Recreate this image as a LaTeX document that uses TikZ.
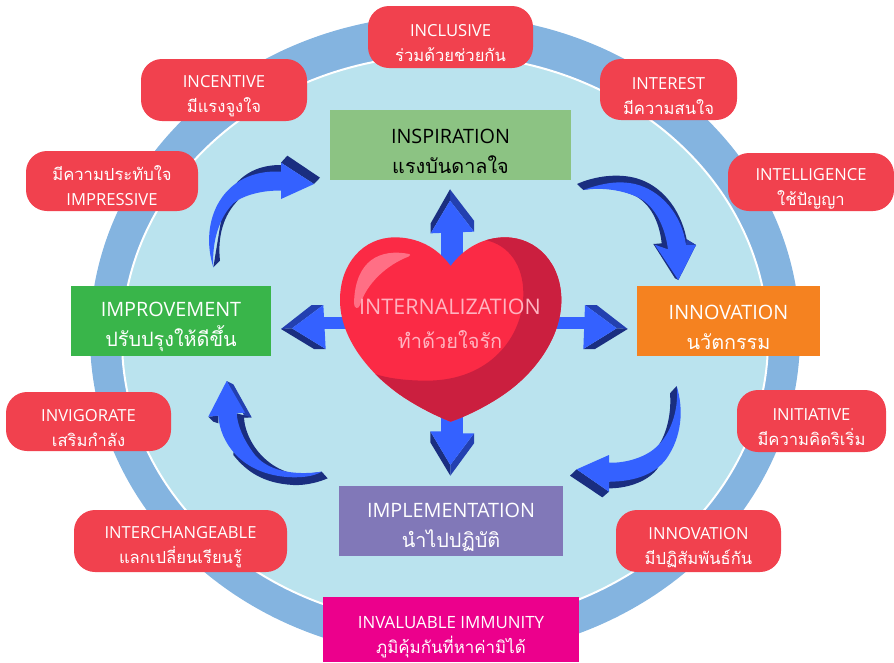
\documentclass[tikz,border=0pt]{standalone}
\usepackage{fontspec}
\setmainfont{Open Sans}
\newfontfamily\thaif[Script=Thai]{Loma}
\definecolor{pillred}{HTML}{F1414E}
\definecolor{ringblue}{HTML}{84B4E0}
\definecolor{innerblue}{HTML}{BAE3EE}
\definecolor{arrowblue}{HTML}{3461FF}
\definecolor{arrowdark}{HTML}{1A2E80}
\definecolor{arrowmid}{HTML}{2340B0}
\definecolor{heartred}{HTML}{FB2A45}
\definecolor{heartdark}{HTML}{CB1F3F}
\definecolor{hearthi}{HTML}{FF6F85}
\definecolor{hearttext}{HTML}{FFB3C0}
\definecolor{cardgreen}{HTML}{8CC383}
\definecolor{cardlime}{HTML}{39B54A}
\definecolor{cardorange}{HTML}{F58220}
\definecolor{cardviolet}{HTML}{8178B8}
\definecolor{cardpink}{HTML}{EC008C}
\tikzset{
  pill/.style={fill=pillred,draw=none,rounded corners=21pt,text=white,align=center,inner sep=0pt,
    font=\fontsize{16.6}{25}\selectfont},
  card/.style={draw=none,text=white,align=center,inner sep=0pt,font=\fontsize{19.8}{30}\selectfont},
  blue/.style={fill=arrowblue,draw=none},
  dark/.style={fill=arrowdark,draw=none},
  mid/.style={fill=arrowmid,draw=none},
  zoomed/.style={scale=1/3},
}
\newcommand{\pillnode}[7]{\node[pill,minimum width=#3pt-#1pt,minimum height=#4pt-#2pt] (#5) at ({(#1+#3)/2},{(#2+#4)/2}) {\rule{0pt}{25pt}#6\\#7};}
\newcommand{\cardnode}[7]{\node[card,#7,minimum width=#3pt-#1pt,minimum height=#4pt-#2pt] (#5) at ({(#1+#3)/2},{(#2+#4)/2}) {\rule{0pt}{27pt}#6};}
\begin{document}
\begin{tikzpicture}[x=1pt,y=-1pt]
\useasboundingbox (0,0) rectangle (894,662);
% ring and inner disc
\fill[ringblue] (445,336) ellipse [x radius=355,y radius=321];
\filldraw[fill=innerblue,draw=white,line width=2pt] (445,340) ellipse [x radius=323,y radius=285];

% straight arrows
\begin{scope}[shift={(330,170)},zoomed]
 \fill[blue] (333,180) rectangle (398,300);
 \fill[mid] (360,58) -- (432,152) -- (432,185) -- (360,92) -- cycle;
 \fill[dark] (360,58) -- (302,160) -- (302,190) -- (360,92) -- cycle;
 \fill[blue] (302,190) -- (360,92) -- (432,185) -- cycle;
\end{scope}
\begin{scope}[shift={(540,290)},zoomed]
 \fill[blue] (30,80) rectangle (140,116);
 \fill[mid] (135,45) -- (170,45) -- (263,117) -- (230,115) -- cycle;
 \fill[dark] (130,177) -- (165,177) -- (263,117) -- (230,115) -- cycle;
 \fill[blue] (135,45) -- (230,115) -- (130,177) -- cycle;
\end{scope}
\begin{scope}[shift={(270,290)},zoomed]
 \fill[blue] (150,80) rectangle (240,116);
 \fill[mid] (160,45) -- (125,45) -- (33,117) -- (66,115) -- cycle;
 \fill[dark] (167,177) -- (132,177) -- (33,117) -- (66,115) -- cycle;
 \fill[blue] (160,45) -- (66,115) -- (167,177) -- cycle;
\end{scope}
\begin{scope}[shift={(410,410)},zoomed]
 \fill[blue] (93,20) rectangle (159,80);
 \fill[dark] (61,64) -- (61,97) -- (121,197) -- (121,165) -- cycle;
 \fill[mid] (192,70) -- (192,100) -- (121,197) -- (121,165) -- cycle;
 \fill[blue] (61,64) -- (93,64) -- (159,70) -- (192,70) -- (121,165) -- cycle;
\end{scope}

% curved arrows
\begin{scope}[shift={(560,170)},zoomed]
 \fill[dark] (51,42) .. controls (100,20) and (170,8) .. (230,25) .. controls (300,45) and (360,110) .. (380,208)
   -- (408,225) -- (355,330) -- (345,325) -- (280,222) -- (305,220)
   .. controls (300,170) and (280,110) .. (230,80) .. controls (180,55) and (120,50) .. (70,60) -- cycle;
 \fill[mid] (380,208) -- (408,225) -- (378,225) -- cycle;
 \fill[blue] (70,60) .. controls (120,42) and (170,30) .. (225,42) .. controls (300,60) and (365,130) .. (378,225)
   -- (408,225) -- (355,330) -- (284,224) -- (324,238)
   .. controls (315,170) and (285,105) .. (230,80) .. controls (180,58) and (120,52) .. (70,60) -- cycle;
\end{scope}
\begin{scope}[shift={(200,140)},zoomed]
 \fill[dark] (40,382) -- (60,362) .. controls (52,290) and (70,225) .. (115,180) -- (70,200) -- cycle;
 \fill[dark] (100,140) .. controls (140,90) and (190,75) .. (243,75) -- (243,100) -- (130,130) -- cycle;
 \fill[dark] (243,68) -- (262,47) -- (360,113) -- (342,132) -- cycle;
 \fill[blue] (40,382) .. controls (-5,240) and (70,85) .. (243,95)
   -- (243,68) -- (342,132) -- (243,177) -- (243,152)
   .. controls (190,150) and (130,165) .. (100,190) .. controls (60,230) and (35,300) .. (40,382) -- cycle;
\end{scope}
\begin{scope}[shift={(560,380)},zoomed]
 \fill[dark] (330,40) -- (350,18) -- (358,100) -- (340,160) -- (285,210) .. controls (320,170) and (335,100) .. (330,40) -- cycle;
 \fill[dark] (147,305) -- (147,325) .. controls (210,325) and (270,300) .. (295,262) -- (250,270) -- cycle;
 \fill[dark] (50,268) -- (30,287) -- (127,352) -- (147,335) -- cycle;
 \fill[blue] (350,18) .. controls (372,90) and (365,170) .. (320,235) .. controls (280,290) and (210,305) .. (147,305)
   -- (147,335) -- (50,268) -- (147,225) -- (147,248)
   .. controls (200,250) and (260,230) .. (290,200) .. controls (330,165) and (358,90) .. (350,18) -- cycle;
\end{scope}
\begin{scope}[shift={(200,375)},zoomed]
 \fill[dark] (25,125) -- (55,122) -- (55,145) -- (40,140) -- cycle;
 \fill[mid] (80,18) -- (100,28) -- (155,127) -- (135,127) -- cycle;
 \fill[dark] (110,115) -- (155,127) -- (132,128) .. controls (135,190) and (190,285) .. (300,300) -- (365,290) -- (383,310)
   .. controls (360,320) and (320,332) .. (280,330) .. controls (190,325) and (140,290) .. (100,240) -- cycle;
 \fill[blue] (80,18) -- (25,125) -- (55,122) .. controls (60,200) and (120,290) .. (250,305) .. controls (300,310) and (340,305) .. (365,290)
   .. controls (300,300) and (210,295) .. (165,240) .. controls (130,195) and (112,150) .. (110,115) -- (135,113) -- cycle;
\end{scope}

% heart
\begin{scope}[shift={(330,170)},zoomed]
 \def\heartpath{(362,288) .. controls (320,230) and (260,202) .. (195,202) .. controls (100,202) and (30,280) .. (30,390)
   .. controls (30,500) and (110,590) .. (160,635) .. controls (220,690) and (310,735) .. (362,755)
   .. controls (420,735) and (510,690) .. (570,635) .. controls (620,590) and (694,500) .. (694,390)
   .. controls (694,280) and (620,202) .. (525,202) .. controls (465,202) and (405,230) .. (362,288) -- cycle}
 \fill[heartred] \heartpath;
 \begin{scope}
  \clip \heartpath;
  \fill[heartdark] (465,210) .. controls (540,225) and (580,290) .. (580,370) .. controls (580,500) and (480,632) .. (290,632)
    .. controls (230,632) and (170,625) .. (130,610) -- (362,800) -- (750,800) -- (750,150) -- (500,150) -- cycle;
 \end{scope}
 \fill[hearthi] (238,252) .. controls (150,235) and (75,270) .. (72,400) .. controls (72,415) and (85,420) .. (90,405)
   .. controls (110,340) and (170,285) .. (235,260) .. controls (242,257) and (242,253) .. (238,252) -- cycle;
\end{scope}
\node[text=hearttext,font=\fontsize{21.5}{34}\selectfont,align=center,inner sep=0pt] (heart) at (450,324) {INTERNALIZATION\\{\fontsize{20}{34}\selectfont\thaif ทำด้วยใจรัก}};

% cards
\cardnode{330}{110}{571}{180}{inspiration}{INSPIRATION\\{\thaif แรงบันดาลใจ}}{fill=cardgreen,text=black}
\cardnode{71}{286}{271}{356}{improvement}{IMPROVEMENT\\{\thaif ปรับปรุงให้ดีขึ้น}}{fill=cardlime}
\cardnode{637}{286}{820}{356}{innovation}{INNOVATION\\{\thaif นวัตกรรม}}{fill=cardorange}
\cardnode{339}{486}{563}{556}{implementation}{IMPLEMENTATION\\{\thaif นำไปปฏิบัติ}}{fill=cardviolet}
\node[card,fill=cardpink,minimum width=256pt,minimum height=65pt,font=\fontsize{16.9}{25}\selectfont] (immunity) at (451,629.5) {\rule{0pt}{28pt}INVALUABLE IMMUNITY\\{\thaif ภูมิคุ้มกันที่หาค่ามิได้}};

% pills
\pillnode{368}{6}{533}{68}{inclusive}{INCLUSIVE}{\thaif ร่วมด้วยช่วยกัน}
\pillnode{141}{59}{307}{121}{incentive}{INCENTIVE}{\thaif มีแรงจูงใจ}
\pillnode{26}{151}{198}{211}{impressive}{{\thaif มีความประทับใจ}}{IMPRESSIVE}
\pillnode{600}{59}{737}{120}{interest}{INTEREST}{\thaif มีความสนใจ}
\pillnode{728}{153}{894}{211}{intelligence}{INTELLIGENCE}{\thaif ใช้ปัญญา}
\pillnode{737}{390}{886}{452}{initiative}{INITIATIVE}{\thaif มีความคิดริเริ่ม}
\pillnode{6}{392}{171}{451}{invigorate}{INVIGORATE}{\thaif เสริมกำลัง}
\pillnode{74}{510}{287}{572}{interchange}{INTERCHANGEABLE}{\thaif แลกเปลี่ยนเรียนรู้}
\pillnode{616}{510}{781}{572}{interaction}{INNOVATION}{\thaif มีปฏิสัมพันธ์กัน}
\end{tikzpicture}
\end{document}
